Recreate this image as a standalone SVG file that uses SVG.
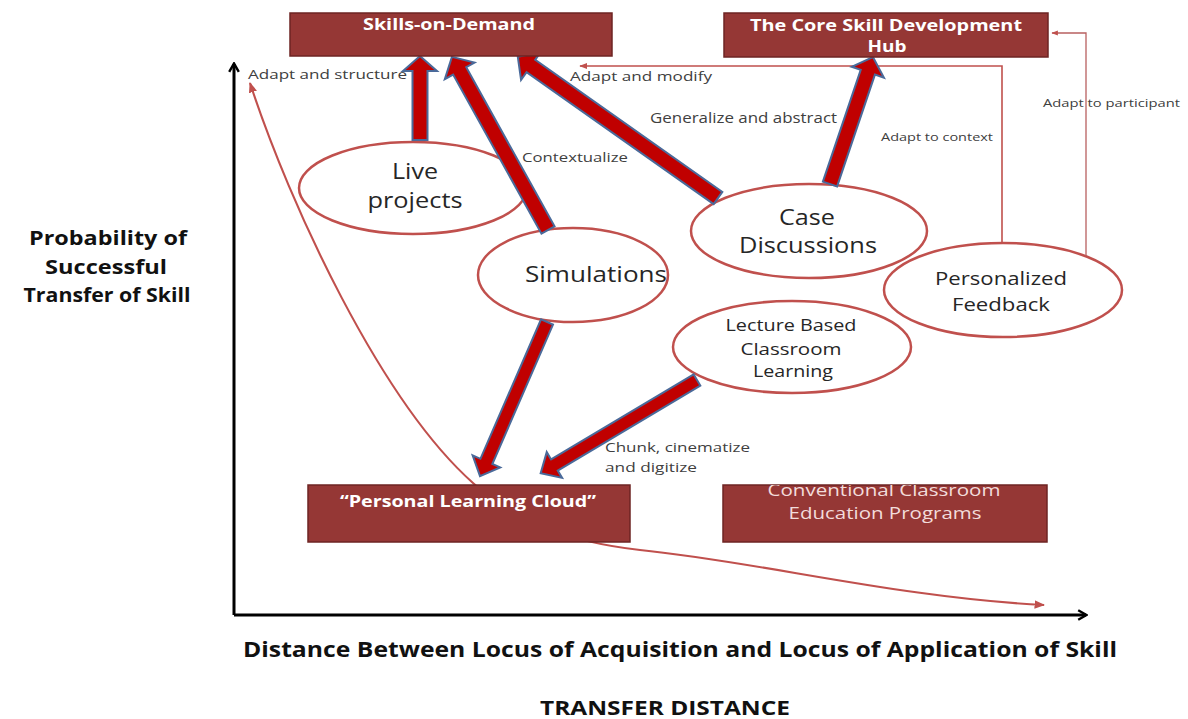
<svg xmlns="http://www.w3.org/2000/svg" width="1188" height="719" viewBox="0 0 1188 719">
<style>
text{font-family:"Open Sans","Liberation Sans",sans-serif}
.box{fill:#953735;stroke:#6e2523;stroke-width:1.5}
.bt{font-weight:bold;fill:#ffffff;text-anchor:middle}
.ct{fill:#f2dcdb;text-anchor:middle}
.ell{fill:#ffffff;stroke:#c0504d;stroke-width:2.5}
.et{fill:#262626;text-anchor:middle}
.lab{fill:#404040}
.big{font-weight:bold;fill:#111111;text-anchor:middle}
.thick{fill:#c00000;stroke:#4a6a9a;stroke-width:2;stroke-linejoin:miter}
.thin{fill:none;stroke:#c0504d;stroke-width:1.6}
.axis{fill:none;stroke:#000000;stroke-width:3}
</style>
<defs>
<marker id="ra" viewBox="0 0 10 10" refX="9" refY="5" markerWidth="5" markerHeight="5" orient="auto-start-reverse"><path d="M0,1 L10,5 L0,9 Z" fill="#c0504d"/></marker>
<marker id="ba" viewBox="0 0 10 10" refX="8" refY="5" markerWidth="4" markerHeight="4" orient="auto"><path d="M1.5,1 L8.5,5 L1.5,9" fill="none" stroke="#000" stroke-width="2"/></marker>
<clipPath id="convclip"><rect x="723" y="485" width="324" height="57"/></clipPath>
</defs>

<rect width="1188" height="719" fill="#ffffff"/>

<g id="axes">
<path class="axis" d="M234,615 V64" marker-end="url(#ba)"/>
<path class="axis" d="M234,615 H1086" marker-end="url(#ba)"/>
</g>

<g id="node-live-projects">
<ellipse class="ell" cx="413" cy="188" rx="114" ry="46"/>
<text class="et" x="415" y="179" font-size="22" textLength="46" lengthAdjust="spacingAndGlyphs">Live</text>
<text class="et" x="415" y="208" font-size="22" textLength="95" lengthAdjust="spacingAndGlyphs">projects</text>
</g>
<g id="node-simulations">
<ellipse class="ell" cx="573" cy="275" rx="95" ry="47"/>
<text class="et" x="596" y="282" font-size="21" textLength="142" lengthAdjust="spacingAndGlyphs">Simulations</text>
</g>
<g id="node-case-discussions">
<ellipse class="ell" cx="809" cy="231" rx="118" ry="47"/>
<text class="et" x="807" y="225" font-size="22" textLength="56" lengthAdjust="spacingAndGlyphs">Case</text>
<text class="et" x="808" y="253" font-size="22" textLength="138" lengthAdjust="spacingAndGlyphs">Discussions</text>
</g>
<g id="node-personalized-feedback">
<ellipse class="ell" cx="1003" cy="290" rx="119" ry="47"/>
<text class="et" x="1001" y="285" font-size="19" textLength="132" lengthAdjust="spacingAndGlyphs">Personalized</text>
<text class="et" x="1001" y="311" font-size="19" textLength="98" lengthAdjust="spacingAndGlyphs">Feedback</text>
</g>
<g id="node-lecture">
<ellipse class="ell" cx="792" cy="347" rx="119" ry="46"/>
<text class="et" x="791" y="331" font-size="16.5" textLength="131" lengthAdjust="spacingAndGlyphs">Lecture Based</text>
<text class="et" x="791" y="355" font-size="16.5" textLength="101" lengthAdjust="spacingAndGlyphs">Classroom</text>
<text class="et" x="793" y="377" font-size="16.5" textLength="80" lengthAdjust="spacingAndGlyphs">Learning</text>
</g>

<g id="connectors">
<path class="thin" style="stroke-width:2.1" d="M250,83 C290,205 380,400 473,483 C510,517 560,541 640,550 C760,562 900,598 1044,605" marker-start="url(#ra)" marker-end="url(#ra)"/>
<path class="thin" d="M1002,243 V66 H580" marker-end="url(#ra)"/>
<path class="thin" style="stroke:#b86060;stroke-width:1.3" d="M1086,256 V33 H1052" marker-end="url(#ra)"/>
<path class="thick" transform="translate(420,140) rotate(-90)" d="M0,-7.5 H69 V-17 L84,0 L69,17 V7.5 H0 Z"/>
<path class="thick" transform="translate(548,230) rotate(-119.03)" d="M0,-7.5 H182 V-17 L198,0 L182,17 V7.5 H0 Z"/>
<path class="thick" transform="translate(718,198) rotate(-144.8)" d="M0,-7.5 H229 V-17 L245,0 L229,17 V7.5 H0 Z"/>
<path class="thick" transform="translate(830,184) rotate(-71.3)" d="M0,-7.5 H118 V-17 L134,0 L118,17 V7.5 H0 Z"/>
<path class="thick" transform="translate(547,322) rotate(113.5)" d="M0,-6.5 H152 V-15 L168,0 L152,15 V6.5 H0 Z"/>
<path class="thick" transform="translate(697,380) rotate(149.2)" d="M0,-6.5 H166 V-15 L182,0 L166,15 V6.5 H0 Z"/>
</g>

<g id="node-skills-on-demand">
<rect class="box" x="290" y="13" width="322" height="43"/>
<text class="bt" x="449" y="30" font-size="16" textLength="172" lengthAdjust="spacingAndGlyphs">Skills-on-Demand</text>
</g>
<g id="node-core-hub">
<rect class="box" x="724" y="13" width="324" height="44"/>
<text class="bt" x="886" y="31" font-size="16" textLength="272" lengthAdjust="spacingAndGlyphs">The Core Skill Development</text>
<text class="bt" x="887" y="52" font-size="16" textLength="39" lengthAdjust="spacingAndGlyphs">Hub</text>
</g>
<g id="node-plc">
<rect class="box" x="308" y="485" width="322" height="57"/>
<text class="bt" x="468" y="507" font-size="16" textLength="256" lengthAdjust="spacingAndGlyphs">“Personal Learning Cloud”</text>
</g>
<g id="node-conventional">
<rect class="box" x="723" y="485" width="324" height="57"/>
<g clip-path="url(#convclip)">
<text class="ct" x="884" y="496" font-size="17" textLength="233" lengthAdjust="spacingAndGlyphs">Conventional Classroom</text>
</g>
<text class="ct" x="885" y="519" font-size="17" textLength="193" lengthAdjust="spacingAndGlyphs">Education Programs</text>
</g>

<g id="labels">
<text class="lab" x="248" y="79" font-size="13.5" textLength="159" lengthAdjust="spacingAndGlyphs">Adapt and structure</text>
<text class="lab" x="570" y="81" font-size="13.5" textLength="142" lengthAdjust="spacingAndGlyphs">Adapt and modify</text>
<text class="lab" x="522" y="162" font-size="13" textLength="106" lengthAdjust="spacingAndGlyphs">Contextualize</text>
<text class="lab" x="650" y="123" font-size="14.5" textLength="187" lengthAdjust="spacingAndGlyphs">Generalize and abstract</text>
<text class="lab" x="881" y="141" font-size="11.5" textLength="112" lengthAdjust="spacingAndGlyphs">Adapt to context</text>
<text class="lab" x="1043" y="107" font-size="11.5" textLength="137" lengthAdjust="spacingAndGlyphs">Adapt to participant</text>
<text class="lab" x="605" y="452" font-size="13" textLength="145" lengthAdjust="spacingAndGlyphs">Chunk, cinematize</text>
<text class="lab" x="605" y="472" font-size="13" textLength="92" lengthAdjust="spacingAndGlyphs">and digitize</text>
<text class="big" x="108" y="245" font-size="19" textLength="158" lengthAdjust="spacingAndGlyphs">Probability of</text>
<text class="big" x="106" y="274" font-size="19" textLength="122" lengthAdjust="spacingAndGlyphs">Successful</text>
<text class="big" x="107" y="302" font-size="19" textLength="167" lengthAdjust="spacingAndGlyphs">Transfer of Skill</text>
<text class="big" x="680" y="657" font-size="21" textLength="874" lengthAdjust="spacingAndGlyphs">Distance Between Locus of Acquisition and Locus of Application of Skill</text>
<text class="big" x="665" y="715" font-size="20" textLength="250" lengthAdjust="spacingAndGlyphs">TRANSFER DISTANCE</text>
</g>
</svg>
